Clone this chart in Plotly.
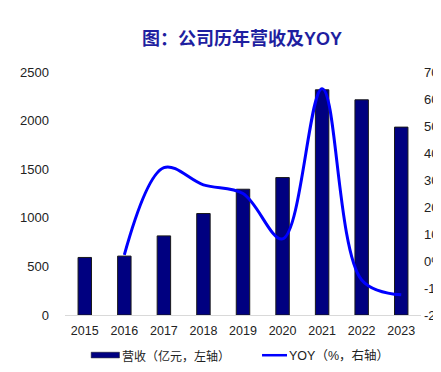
import plotly.graph_objects as go

years = ["2015", "2016", "2017", "2018", "2019", "2020", "2021", "2022", "2023"]
revenue = [592, 606, 814, 1044, 1294, 1414, 2317, 2214, 1933]
yoy = [None, 2.3, 34.6, 28.2, 25.0, 8.2, 63.8, -7.0, -12.5]
left_ticks = [0, 500, 1000, 1500, 2000, 2500]
right_ticks = [-20, -10, 0, 10, 20, 30, 40, 50, 60, 70]
right_labels = [f"{v}%" for v in right_ticks]

title_text = "图：公司历年营收及YOY"
legend_bar = "营收（亿元，左轴）"
legend_line = "YOY（%，右轴）"

# page body has an 8px default margin; figure is sized so it ends at the window edge
OFF = 8
W, H = 441 - OFF, 372 - OFF
L, R, T, B = 64.5 - OFF, 20.2, 71.5 - OFF, 57
pw, ph = W - L - R, H - T - B
FONT = "Liberation Sans, Arial, Noto Sans CJK SC, sans-serif"

def px(x):
    return (x - OFF - L) / pw

def py(y):
    return (H - B - (y - OFF)) / ph

fig = go.Figure()
fig.add_trace(go.Bar(
    x=years, y=revenue, name=legend_bar, yaxis="y",
    marker=dict(color="#000080", line=dict(color="#1a1a1a", width=1)),
    width=0.34, showlegend=False,
))
fig.add_trace(go.Scatter(
    x=years, y=yoy, name=legend_line, yaxis="y2", mode="lines",
    line=dict(color="#0000FF", width=3, shape="spline", smoothing=1.0),
    connectgaps=False, showlegend=False,
))

shapes = [
    dict(type="rect", xref="paper", yref="paper",
         x0=px(90.7), x1=px(119), y0=py(358), y1=py(352.3),
         fillcolor="#000080", line=dict(color="#1a1a1a", width=0.5)),
    dict(type="line", xref="paper", yref="paper",
         x0=px(261.7), x1=px(286.7), y0=py(355.3), y1=py(355.3),
         line=dict(color="#0000FF", width=2.5)),
]
annotations = [
    dict(text=f"<b>{title_text}</b>", xref="paper", yref="paper",
         x=px(241.5), y=py(37.5), xanchor="center", yanchor="middle",
         showarrow=False, font=dict(family=FONT, size=18, color="#1f1fa0")),
    dict(text=legend_bar, xref="paper", yref="paper",
         x=px(119.5), y=py(355.5), xanchor="left", yanchor="middle",
         showarrow=False, font=dict(family="Noto Sans CJK SC", size=12, color="#222222")),
    dict(text=legend_line, xref="paper", yref="paper",
         x=px(286.5), y=py(355.5), xanchor="left", yanchor="middle",
         showarrow=False, font=dict(family=FONT, size=12.5, color="#222222")),
]

fig.update_layout(
    width=W, height=H,
    margin=dict(l=L, r=R, t=T, b=B, pad=0, autoexpand=False),
    paper_bgcolor="white", plot_bgcolor="white",
    font=dict(family=FONT, size=12.5, color="#222222"),
    bargap=0.66,
    xaxis=dict(
        type="category", showgrid=False, showline=True, linecolor="#d9d9d9",
        linewidth=1, ticks="", tickfont=dict(size=12.5, color="#222222"),
        ticklabelstandoff=4, automargin=False,
    ),
    yaxis=dict(
        range=[0, 2500], tickvals=left_ticks, showgrid=False, zeroline=False,
        showline=False, ticks="", tickfont=dict(size=13, color="#222222"),
        ticklabelstandoff=15, automargin=False,
    ),
    yaxis2=dict(
        overlaying="y", side="right", range=[-20, 70], tickvals=right_ticks,
        ticktext=right_labels, showgrid=False, zeroline=False, showline=False,
        ticks="", tickfont=dict(size=13, color="#222222"), ticklabelstandoff=2,
        automargin=False,
    ),
    shapes=shapes, annotations=annotations, showlegend=False,
)

fig.write_html("out.html")
